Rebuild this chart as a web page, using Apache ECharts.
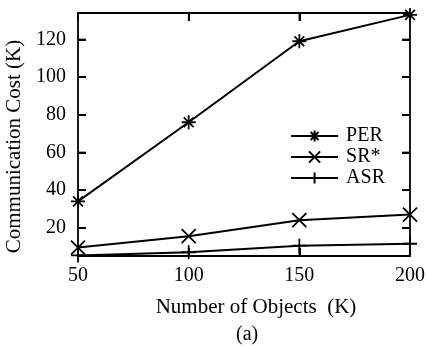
<!DOCTYPE html>
<html>
<head>
<meta charset="utf-8">
<script src="https://cdn.jsdelivr.net/npm/echarts@6/dist/echarts.min.js"></script>
<style>
  html, body { margin: 0; padding: 0; background: #fff; }
  #chart { width: 427px; height: 349px; }
</style>
</head>
<body>
<div id="chart"></div>
<script>
// data
const objects = [50, 100, 150, 200];
const perCost = [34, 76, 119, 133];
const srCost = [9.5, 15.5, 24, 27];
const asrCost = [5.3, 7, 10.5, 11.5];
const xRange = [50, 200];
const yRange = [5, 134];
const xTicks = [100, 150];
const yTicks = [20, 40, 60, 80, 100, 120];

const FONT = 'Liberation Serif';

const starPath = 'path://M0,5L10,5M5,0L5,10M1.5,1.5L8.5,8.5M1.5,8.5L8.5,1.5';
const crossPath = 'path://M0,0L10,10M0,10L10,0';
const plusPath = 'path://M0,5L10,5M5,0L5,10';

const chart = echarts.init(document.getElementById('chart'));

const tick = { show: true, inside: true, length: 8, lineStyle: { color: '#000', width: 2 } };
const frame = { show: true, lineStyle: { color: '#000', width: 1.8 } };
const ax = (extra) => Object.assign({ type: 'value', axisTick: tick, axisLine: frame, splitLine: { show: false } }, extra);

function mkSeries(name, vals, symbol) {
  return {
    name: name,
    type: 'line',
    data: objects.map((x, i) => [x, vals[i]]),
    symbol: symbol,
    symbolSize: 14,
    lineStyle: { color: '#000', width: 2 },
    itemStyle: { color: '#000', borderColor: '#000', borderWidth: 1.8 }
  };
}

// inward mirror ticks on all four sides, placed through the axis scales
const TL = 8;
const tickStyle = { stroke: '#000', lineWidth: 1.5 };
function tickLine(x1, y1, x2, y2) {
  return { type: 'line', shape: { x1: x1, y1: y1, x2: x2, y2: y2 }, style: tickStyle };
}
const yTickSeries = {
  type: 'custom',
  silent: true,
  z: 5,
  data: yTicks.map(v => [xRange[0], v]),
  renderItem: (params, api) => {
    const l = api.coord([xRange[0], api.value(1)]);
    const r = api.coord([xRange[1], api.value(1)]);
    return { type: 'group', children: [tickLine(l[0], l[1], l[0] + TL, l[1]), tickLine(r[0] - TL, r[1], r[0], r[1])] };
  }
};
const xTickSeries = {
  type: 'custom',
  silent: true,
  z: 5,
  data: xTicks.map(v => [v, yRange[0]]),
  renderItem: (params, api) => {
    const b = api.coord([api.value(0), yRange[0]]);
    const t = api.coord([api.value(0), yRange[1]]);
    return { type: 'group', children: [tickLine(b[0], b[1], b[0], b[1] - TL), tickLine(t[0], t[1], t[0], t[1] + TL)] };
  }
};

chart.setOption({
  animation: false,
  textStyle: { fontFamily: FONT },
  title: {
    text: '(a)',
    left: 231,
    top: 320,
    textStyle: { fontFamily: FONT, fontSize: 20, fontWeight: 'normal', color: '#000' }
  },
  grid: { left: 78, right: 17, top: 13, bottom: 93, outerBoundsMode: 'none' },
  legend: {
    right: 37,
    top: 121,
    orient: 'vertical',
    itemWidth: 47,
    itemHeight: 14,
    itemGap: 1,
    textStyle: { fontFamily: FONT, fontSize: 20, lineHeight: 19, color: '#000', padding: [0, 0, 0, 3] },
    data: ['PER', 'SR*', 'ASR']
  },
  xAxis: [
    ax({
      min: xRange[0], max: xRange[1], interval: 50,
      name: 'Number of Objects  (K)',
      nameLocation: 'middle',
      nameGap: 41,
      nameTextStyle: { fontFamily: FONT, fontSize: 21, color: '#000', padding: [0, 0, 0, 24] },
      axisLabel: { fontFamily: FONT, fontSize: 20, color: '#000', margin: 10 }
    }),
    ax({ position: 'top', min: xRange[0], max: xRange[1], interval: 50, axisLabel: { show: false } })
  ],
  yAxis: [
    ax({
      min: yRange[0], max: yRange[1], minInterval: 20, maxInterval: 20,
      name: 'Communication Cost (K)',
      nameLocation: 'middle',
      nameGap: 44,
      nameTextStyle: { fontFamily: FONT, fontSize: 21, color: '#000', padding: [0, 24, 0, 0] },
      axisLabel: {
        fontFamily: FONT, fontSize: 20, color: '#000', margin: 12,
        formatter: v => (yTicks.indexOf(v) >= 0 ? String(v) : '')
      }
    }),
    ax({ position: 'right', min: yRange[0], max: yRange[1], minInterval: 20, maxInterval: 20, axisLabel: { show: false } })
  ],
  series: [
    mkSeries('PER', perCost, starPath),
    mkSeries('SR*', srCost, crossPath),
    mkSeries('ASR', asrCost, plusPath),
    yTickSeries,
    xTickSeries
  ]
});
</script>
</body>
</html>
